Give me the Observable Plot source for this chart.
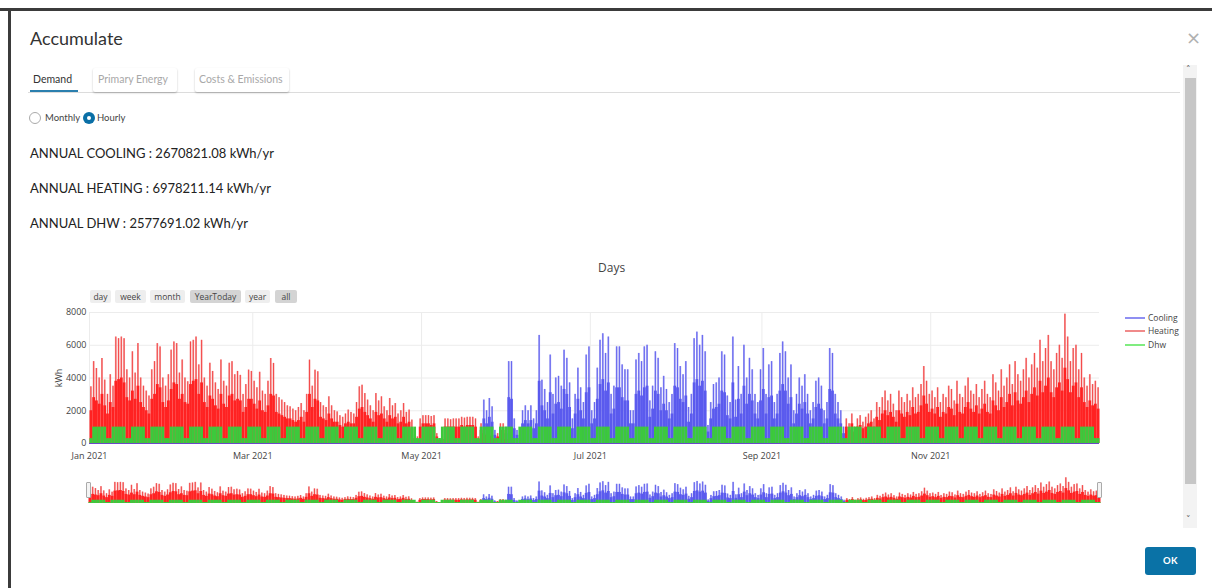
<!DOCTYPE html>
<html><head><meta charset="utf-8">
<script src="https://cdn.jsdelivr.net/npm/d3@7"></script>
<script src="https://cdn.jsdelivr.net/npm/@observablehq/plot@0.6"></script>
<style>
body{margin:0;width:1212px;height:588px;background:#fff;position:relative;overflow:hidden;font-family:Lato,"Open Sans",sans-serif;}
.abs{position:absolute;white-space:nowrap;}
.btn{position:absolute;top:290px;height:13px;line-height:13px;font-family:"Open Sans",sans-serif;font-size:8.5px;color:#444;background:#eee;border-radius:2px;text-align:center;}
.leg{position:absolute;left:1148px;font-family:"Open Sans",sans-serif;font-size:8.5px;color:#444;}
.legline{position:absolute;left:1125px;width:20px;height:2px;}
</style></head><body>
<div class="abs" style="left:0;top:8px;width:1212px;height:3px;background:#3b3b3b"></div>
<div class="abs" style="left:8px;top:8px;width:3px;height:580px;background:#3b3b3b"></div>
<div class="abs" style="left:30px;top:27px;font-size:18px;color:#333">Accumulate</div>
<div class="abs" style="left:1186px;top:27px;font-size:18px;color:#b0b0b0;font-family:'DejaVu Sans'">×</div>

<div class="abs" style="left:28px;top:92px;width:1152px;height:1px;background:#dcdcdc"></div>
<div class="abs" style="left:33px;top:73px;font-size:10.5px;color:#333">Demand</div>
<div class="abs" style="left:30px;top:90px;width:48px;height:2px;background:#2b7fae"></div>
<div class="abs" style="left:93px;top:68px;width:84px;height:24px;box-shadow:0 1px 2px rgba(0,0,0,0.25);border-radius:2px"></div>
<div class="abs" style="left:98px;top:73px;font-size:10.5px;color:#a8a8a8">Primary Energy</div>
<div class="abs" style="left:195px;top:68px;width:94px;height:24px;box-shadow:0 1px 2px rgba(0,0,0,0.25);border-radius:2px"></div>
<div class="abs" style="left:199px;top:73px;font-size:10.5px;color:#a8a8a8">Costs &amp; Emissions</div>

<div class="abs" style="left:29px;top:112px;width:10px;height:10px;border:1px solid #aaa;border-radius:50%"></div>
<div class="abs" style="left:45px;top:112px;font-size:9.5px;color:#444">Monthly</div>
<div class="abs" style="left:83px;top:112px;width:12px;height:12px;border-radius:50%;background:#0a6fa6"></div>
<div class="abs" style="left:87px;top:116px;width:4px;height:4px;border-radius:50%;background:#fff"></div>
<div class="abs" style="left:97px;top:112px;font-size:9.5px;color:#444">Hourly</div>

<div class="abs" style="left:30px;top:145px;font-size:13px;color:#222">ANNUAL COOLING : 2670821.08 kWh/yr</div>
<div class="abs" style="left:30px;top:180px;font-size:13px;color:#222">ANNUAL HEATING : 6978211.14 kWh/yr</div>
<div class="abs" style="left:30px;top:215px;font-size:13px;color:#222">ANNUAL DHW : 2577691.02 kWh/yr</div>

<div class="abs" style="left:598px;top:259px;font-family:'Open Sans',sans-serif;font-size:12px;color:#444">Days</div>

<div class="btn" style="left:90px;width:21px">day</div>
<div class="btn" style="left:115px;width:31px">week</div>
<div class="btn" style="left:150px;width:35px">month</div>
<div class="btn" style="left:190px;width:51px;background:#d4d4d4">YearToday</div>
<div class="btn" style="left:245px;width:25px">year</div>
<div class="btn" style="left:275px;width:22px;background:#d4d4d4">all</div>

<div class="legline" style="top:317px;background:#8f8ff2"></div>
<div class="leg" style="top:312px">Cooling</div>
<div class="legline" style="top:330px;background:#f08a8a"></div>
<div class="leg" style="top:325px">Heating</div>
<div class="legline" style="top:344px;background:#80ec80"></div>
<div class="leg" style="top:339px">Dhw</div>

<div id="main" class="abs" style="left:0;top:300px"></div>
<div id="mini" class="abs" style="left:0;top:475px"></div>
<div class="abs" style="left:86px;top:482px;width:3px;height:14px;border:1px solid #aaa;background:#f4f4f4;border-radius:1px"></div>
<div class="abs" style="left:1097px;top:482px;width:3px;height:14px;border:1px solid #aaa;background:#f4f4f4;border-radius:1px"></div>

<div class="abs" style="left:1183px;top:65px;width:14px;height:463px;background:#f3f3f3"></div>
<div class="abs" style="left:1185px;top:78px;width:11px;height:406px;background:#c6c6c6"></div>
<div class="abs" style="left:1186px;top:64px;font-size:9px;color:#555;font-family:'DejaVu Sans'">˄</div>
<div class="abs" style="left:1186px;top:514px;font-size:9px;color:#555;font-family:'DejaVu Sans'">˅</div>

<div class="abs" style="left:1145px;top:547px;width:51px;height:28px;background:#0a72a6;border-radius:3px;color:#fff;font-size:9.5px;font-weight:bold;text-align:center;line-height:28px;letter-spacing:0.5px">OK</div>

<script>
const seriesNames = ["Cooling", "Heating", "Dhw"];
const xTickLabels = ["2021-01-01", "2021-03-01", "2021-05-01", "2021-07-01", "2021-09-01", "2021-11-01"];
const yTicks = [0, 2000, 4000, 6000, 8000];

// daily peak heating demand (kWh), Jan 1 .. Dec 31
const heatingPeak = [
3460,5000,4580,4000,5190,3870,3000,
4200,3500,6500,6400,6500,6400,4500,
4000,5600,4300,6100,4000,3500,3200,
2900,4500,5000,6100,5900,4000,3500,
4200,5700,6200,6100,4300,5100,4000,
3770,6200,6300,6500,4800,6300,4000,
3500,4900,4400,3700,3300,5100,3800,
3500,4900,5000,4200,4400,4160,3000,
3600,4480,4400,3800,3400,4350,3200,
3000,3800,5190,4890,3000,2800,2650,
2500,2300,2240,2100,2000,2200,2440,
2000,3000,5090,3500,4480,4380,2500,
2300,2200,2850,2300,2000,1930,1700,
1600,1800,2040,1900,1800,2500,3460,
3560,3050,2650,2300,2000,3050,2600,
2850,2240,2000,2750,2300,2440,1800,
2000,2440,1900,2040,1430,500,400,
1500,1700,1700,1700,1650,1700,600,
300,400,1500,1500,1450,1500,1500,
1500,1600,1550,1600,1600,1600,1500,
400,1200,900,800,700,500,300,
600,1200,1200,400,0,0,0,
0,0,0,0,0,0,0, 0,0,0,0,0,0,0, 0,0,0,0,0,0,0, 0,0,0,0,0,0,0,
0,0,0,0,0,0,0, 0,0,0,0,0,0,0, 0,0,0,0,0,0,0, 0,0,0,0,0,0,0,
0,0,0,0,0,0,0, 0,0,0,0,0,0,0, 0,0,0,0,0,0,0, 0,0,0,0,0,0,0,
0,0,0,0,0,0,0, 0,0,0,0,0,0,0, 0,0,0,0,0,0,0, 0,0,0,0,0,0,0,
0,0,0,0,0,0,0,
1500,1200,1800,1000,1500,1700,1300,
1600,1800,2000,1500,2500,2200,2800,
3200,2600,3000,2400,2000,3200,2800,
2500,3000,2600,3400,2800,3000,3600,
4700,3800,3000,3200,2800,3400,2500,
3000,2800,3500,3300,2600,3800,3000,
2800,3500,4000,3200,3000,3600,2800,
3300,3800,3000,2800,4200,3700,3200,
4500,3500,4000,4800,3600,5000,4200,
3800,4500,5200,4000,4800,5500,4600,
6300,5000,5800,6600,5000,4500,5500,
6000,5200,7900,6500,5000,5800,6000,
4500,5500,4000,3500,4200,3600,3800,
3400];

// daily typical (dense) heating level (kWh)
const heatingTypical = [
2000,2800,2600,2400,3000,2300,1800,
2500,2200,3800,3900,4000,3700,2800,
2600,3200,2700,3500,2500,2200,2000,
1800,2700,3000,3600,3400,2500,2200,
2600,3300,3700,3600,2700,3000,2500,
2400,3600,3800,3900,3000,3700,2500,
2200,2900,2700,2300,2100,3000,2400,
2200,2900,3000,2600,2700,2600,1900,
2200,2700,2700,2400,2100,2600,2000,
1900,2300,3000,2900,1900,1800,1700,
1600,1500,1500,1400,1300,1400,1600,
1300,1900,3000,2200,2700,2600,1600,
1500,1400,1800,1500,1300,1300,1100,
1000,1200,1300,1200,1200,1600,2100,
2200,1900,1700,1500,1300,1900,1700,
1800,1500,1300,1700,1500,1600,1200,
1300,1600,1200,1300,900,300,250,
1000,1200,1200,1200,1100,1200,400,
200,250,1000,1000,1000,1000,1000,
1000,1100,1000,1100,1100,1100,1000,
250,800,600,500,450,300,200,
400,800,800,250,0,0,0,
0,0,0,0,0,0,0, 0,0,0,0,0,0,0, 0,0,0,0,0,0,0, 0,0,0,0,0,0,0,
0,0,0,0,0,0,0, 0,0,0,0,0,0,0, 0,0,0,0,0,0,0, 0,0,0,0,0,0,0,
0,0,0,0,0,0,0, 0,0,0,0,0,0,0, 0,0,0,0,0,0,0, 0,0,0,0,0,0,0,
0,0,0,0,0,0,0, 0,0,0,0,0,0,0, 0,0,0,0,0,0,0, 0,0,0,0,0,0,0,
0,0,0,0,0,0,0,
1000,800,1200,700,1000,1100,900,
1000,1200,1300,1000,1600,1400,1800,
2000,1700,1900,1600,1300,2000,1800,
1600,1900,1700,2200,1800,1900,2300,
2900,2400,1900,2100,1800,2200,1600,
1900,1800,2200,2100,1700,2400,1900,
1800,2200,2500,2100,1900,2300,1800,
2100,2400,1900,1800,2600,2300,2000,
2800,2200,2500,3000,2300,3100,2600,
2400,2800,3200,2500,3000,3400,2900,
3800,3100,3500,4000,3100,2800,3400,
3700,3200,4600,3900,3100,3500,3700,
2800,3400,2500,2200,2600,2300,2400,
2100];

// daily peak cooling demand (kWh)
const coolingPeak = [
0,0,0,0,0,0,0, 0,0,0,0,0,0,0, 0,0,0,0,0,0,0, 0,0,0,0,0,0,0, 0,0,0,0,0,0,0,
0,0,0,0,0,0,0, 0,0,0,0,0,0,0, 0,0,0,0,0,0,0, 0,0,0,0,0,0,0, 0,0,0,0,0,0,0,
0,0,0,0,0,0,0, 0,0,0,0,0,0,0, 0,0,0,0,0,0,0, 0,0,0,0,0,0,0, 0,0,0,0,0,0,0,
0,0,0,0,0,0,0, 0,0,0,0,0,0,0, 0,0,0,0,0,0,0, 0,0,0,0,0,0,0, 0,0,0,0,0,0,0,
0,300,2650,2000,2750,2240,800,
0,500,300,1000,5000,5000,1500,
800,500,2000,2300,2000,2300,1500,
2000,6600,3870,3300,2500,5400,3000,
4000,4100,3500,5700,5200,3700,1500,
3000,4600,3400,2500,5400,5900,2000,
2500,4600,6300,6700,5500,6500,3000,
3500,5900,5900,4800,4500,4500,2000,
2000,5100,5500,5000,5900,6000,2600,
3500,5600,5200,3400,4100,3300,2500,
3000,6100,5800,4700,4200,5000,2200,
3000,6400,6800,6000,6600,5600,1100,
2500,3600,3700,4000,5600,5400,2900,
2500,6500,2650,4700,3000,6000,4000,
5200,4500,3000,2500,4500,5800,3000,
4800,5000,2500,3000,5500,6200,5600,
4000,4800,2000,3000,4000,3500,4200,
3000,2000,2500,3800,4000,3500,2000,
2500,5800,5500,3000,2500,2000,1000,
0,0,0,0,0,0,0, 0,0,0,0,0,0,0, 0,0,0,0,0,0,0, 0,0,0,0,0,0,0, 0,0,0,0,0,0,0,
0,0,0,0,0,0,0, 0,0,0,0,0,0,0, 0,0,0,0,0,0,0, 0,0,0,0,0,0,0, 0,0,0,0,0,0,0,
0,0,0,0,0,0,0, 0,0,0,0,0,0,0, 0,0,0,0,0,0,0,
0];

// daily typical (dense) cooling level (kWh)
const coolingTypical = [
0,0,0,0,0,0,0, 0,0,0,0,0,0,0, 0,0,0,0,0,0,0, 0,0,0,0,0,0,0, 0,0,0,0,0,0,0,
0,0,0,0,0,0,0, 0,0,0,0,0,0,0, 0,0,0,0,0,0,0, 0,0,0,0,0,0,0, 0,0,0,0,0,0,0,
0,0,0,0,0,0,0, 0,0,0,0,0,0,0, 0,0,0,0,0,0,0, 0,0,0,0,0,0,0, 0,0,0,0,0,0,0,
0,0,0,0,0,0,0, 0,0,0,0,0,0,0, 0,0,0,0,0,0,0, 0,0,0,0,0,0,0, 0,0,0,0,0,0,0,
0,200,1500,1200,1600,1300,500,
0,300,200,600,2800,2700,900,
500,300,1200,1400,1200,1400,900,
1200,3800,2300,2000,1500,3100,1800,
2400,2500,2100,3300,3000,2200,900,
1800,2700,2000,1500,3100,3400,1200,
1500,2700,3600,3900,3200,3700,1800,
2100,3400,3400,2800,2600,2600,1200,
1200,3000,3200,2900,3400,3500,1600,
2100,3200,3000,2000,2400,2000,1500,
1800,3500,3400,2700,2500,2900,1300,
1800,3700,3900,3500,3800,3200,700,
1500,2100,2200,2400,3200,3100,1700,
1500,3700,1600,2700,1800,3500,2400,
3000,2600,1800,1500,2600,3300,1800,
2800,2900,1500,1800,3200,3600,3200,
2400,2800,1200,1800,2400,2100,2500,
1800,1200,1500,2200,2400,2100,1200,
1500,3300,3200,1800,1500,1200,600,
0,0,0,0,0,0,0, 0,0,0,0,0,0,0, 0,0,0,0,0,0,0, 0,0,0,0,0,0,0, 0,0,0,0,0,0,0,
0,0,0,0,0,0,0, 0,0,0,0,0,0,0, 0,0,0,0,0,0,0, 0,0,0,0,0,0,0, 0,0,0,0,0,0,0,
0,0,0,0,0,0,0, 0,0,0,0,0,0,0, 0,0,0,0,0,0,0,
0];

// daily peak domestic hot water demand (kWh)
const dhwPeak = [
300,1000,1000,1000,1000,1000,300, 300,1000,1000,1000,1000,1000,300, 300,1000,1000,1000,1000,1000,300,
300,1000,1000,1000,1000,1000,300, 300,1000,1000,1000,1000,1000,300, 300,1000,1000,1000,1000,1000,300,
300,1000,1000,1000,1000,1000,300, 300,1000,1000,1000,1000,1000,300, 300,1000,1000,1000,1000,1000,300,
300,1000,1000,1000,1000,1000,300, 300,1000,1000,1000,1000,1000,300, 300,1000,1000,1000,1000,1000,300,
300,1000,1000,1000,1000,1000,300, 300,1000,1000,1000,1000,1000,300, 300,1000,1000,1000,1000,1000,300,
300,1000,1000,1000,1000,1000,300, 300,1000,1000,1000,1000,1000,300, 300,1000,1000,1000,1000,1000,300,
300,1000,1000,1000,1000,1000,300, 300,1000,1000,1000,1000,1000,300, 300,1000,1000,1000,1000,1000,300,
300,1000,1000,1000,1000,1000,300, 300,1000,1000,1000,1000,1000,300, 300,1000,1000,1000,1000,1000,300,
300,1000,1000,1000,1000,1000,300, 300,1000,1000,1000,1000,1000,300, 300,1000,1000,1000,1000,1000,300,
300,1000,1000,1000,1000,1000,300, 300,1000,1000,1000,1000,1000,300, 300,1000,1000,1000,1000,1000,300,
300,1000,1000,1000,1000,1000,300, 300,1000,1000,1000,1000,1000,300, 300,1000,1000,1000,1000,1000,300,
300,1000,1000,1000,1000,1000,300, 300,1000,1000,1000,1000,1000,300, 300,1000,1000,1000,1000,1000,300,
300,1000,1000,1000,1000,1000,300, 300,1000,1000,1000,1000,1000,300, 300,1000,1000,1000,1000,1000,300,
300,1000,1000,1000,1000,1000,300, 300,1000,1000,1000,1000,1000,300, 300,1000,1000,1000,1000,1000,300,
300,1000,1000,1000,1000,1000,300, 300,1000,1000,1000,1000,1000,300, 300,1000,1000,1000,1000,1000,300,
300,1000,1000,1000,1000,1000,300, 300,1000,1000,1000,1000,1000,300, 300,1000,1000,1000,1000,1000,300,
300,1000,1000,1000,1000,1000,300, 300,1000,1000,1000,1000,1000,300, 300,1000,1000,1000,1000,1000,300,
300,1000,1000,1000,1000,1000,300,
300];

const rows = heatingPeak.map((h, d) => ({
  date: new Date(Date.UTC(2021, 0, 1 + d, 12)),
  heatPeak: h,
  heatTyp: Math.min(heatingTypical[d], h),
  coolPeak: coolingPeak[d],
  coolTyp: Math.min(coolingTypical[d], coolingPeak[d]),
  dhw: dhwPeak[d]
}));
const xTicks = xTickLabels.map(s => new Date(s + "T00:00:00Z"));
const xDomain = [new Date(Date.UTC(2021, 0, 1)), new Date(Date.UTC(2022, 0, 1))];

function seriesMarks(w) {
  const cool = rows.filter(r => r.coolPeak > 0);
  const heat = rows.filter(r => r.heatPeak > 0);
  return [
    Plot.ruleX(cool, {x: "date", y1: 0, y2: "coolPeak", stroke: "#a4a4f4", strokeWidth: w * 0.65}),
    Plot.ruleX(cool, {x: "date", y1: 0, y2: "coolPeak", stroke: "#5c5cee", strokeWidth: w * 0.3}),
    Plot.ruleX(cool.filter(r => r.coolTyp > 0), {x: "date", y1: 0, y2: "coolTyp", stroke: "#5a5aee", strokeWidth: w}),
    Plot.ruleX(heat, {x: "date", y1: 0, y2: "heatPeak", stroke: "#f4a0a0", strokeWidth: w * 0.65}),
    Plot.ruleX(heat, {x: "date", y1: 0, y2: "heatPeak", stroke: "#f43a3a", strokeWidth: w * 0.3}),
    Plot.ruleX(heat.filter(r => r.heatTyp > 0), {x: "date", y1: 0, y2: "heatTyp", stroke: "#ff2222", strokeWidth: w}),
    Plot.ruleX(rows, {x: "date", y1: 0, y2: "dhw", stroke: "#3cc93c", strokeWidth: w})
  ];
}

const main = Plot.plot({
  width: 1110, height: 170,
  marginLeft: 89, marginRight: 11, marginTop: 12, marginBottom: 27,
  style: {fontFamily: "'Open Sans', sans-serif", fontSize: "9px", color: "#444", background: "transparent", overflow: "visible"},
  x: {type: "utc", domain: xDomain},
  y: {domain: [0, 8000]},
  marks: [
    Plot.gridX(xTicks, {stroke: "#ececec", strokeOpacity: 1}),
    Plot.gridY(yTicks.slice(1), {stroke: "#ececec", strokeOpacity: 1}),
    ...seriesMarks(2.8),
    Plot.ruleY([0], {stroke: "#6a48c8", strokeWidth: 1}),
    Plot.axisX(xTicks, {tickSize: 0, tickPadding: 9, tickFormat: d3.utcFormat("%b %Y"), label: null, fill: "#444"}),
    Plot.axisY(yTicks, {tickSize: 0, tickPadding: 3, tickFormat: d3.format("d"), label: "kWh", labelAnchor: "center", labelArrow: "none", labelOffset: 34, fill: "#444"})
  ]
});
document.getElementById("main").appendChild(main);

const mini = Plot.plot({
  width: 1110, height: 30,
  marginLeft: 88, marginRight: 10, marginTop: 2, marginBottom: 2,
  style: {background: "transparent", overflow: "visible"},
  x: {type: "utc", domain: xDomain, axis: null},
  y: {domain: [0, 8000], axis: null},
  marks: [...seriesMarks(2.8)]
});
document.getElementById("mini").appendChild(mini);
</script>
</body></html>
